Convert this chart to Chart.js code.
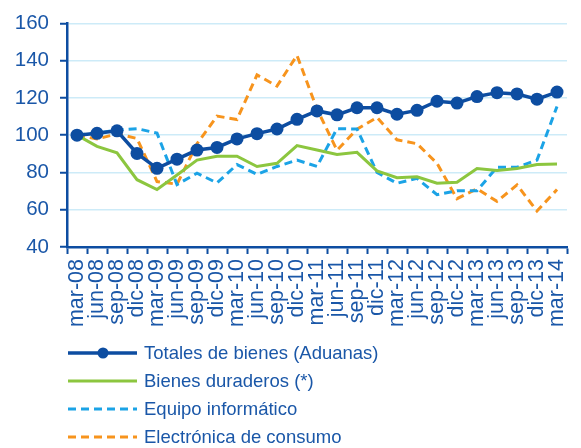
<!DOCTYPE html>
<html>
<head>
<meta charset="utf-8">
<script src="https://cdn.jsdelivr.net/npm/chart.js@4"></script>
<style>
  html, body { margin: 0; padding: 0; background: #fff; }
  canvas { display: block; }
</style>
</head>
<body>
<canvas id="chart" width="581" height="448"></canvas>
<script>
// === Data ===
const quarters = [
    "mar-08", "jun-08", "sep-08", "dic-08",
    "mar-09", "jun-09", "sep-09", "dic-09",
    "mar-10", "jun-10", "sep-10", "dic-10",
    "mar-11", "jun-11", "sep-11", "dic-11",
    "mar-12", "jun-12", "sep-12", "dic-12",
    "mar-13", "jun-13", "sep-13", "dic-13",
    "mar-14"
];
const totalesBienes = [100, 101, 102.3, 90.2, 82.2, 87.1, 92, 93.4, 98, 100.8, 103.3, 108.5, 113, 110.9, 114.7, 114.7, 111.2, 113.3, 118.2, 117.2, 120.7, 122.8, 122.1, 119.3, 123.1];
const bienesDuraderos = [100, 94, 90.5, 76.1, 70.8, 78.6, 86.6, 88.7, 88.7, 83.2, 84.9, 94.4, 92, 89.6, 90.8, 80.8, 77.2, 77.7, 74.2, 74.7, 82.1, 81, 82.1, 84.2, 84.5];
const equipoInformatico = [100, 101.1, 102.8, 103.5, 101.1, 73.5, 79.6, 74.4, 84.2, 79, 83.2, 86.6, 83.2, 103.5, 103.3, 80, 74.2, 76.8, 68.1, 70.2, 70.2, 82.8, 82.8, 86.6, 115.4];
const electronicaConsumo = [100, 97.9, 100.7, 98.2, 75.1, 73.7, 95.4, 110.2, 108.4, 132.3, 126.3, 142.8, 114, 91.9, 103.2, 109.5, 97.5, 95.4, 84.9, 65.9, 71.2, 64.5, 73.3, 59.3, 70.8];
const seriesNames = ["Totales de bienes (Aduanas)", "Bienes duraderos (*)", "Equipo informático", "Electrónica de consumo"];

// === Styles ===
const navy = "#0d4da1";
const textBlue = "#1a57a8";
const green = "#8cc63f";
const cyan = "#1ba3e6";
const orange = "#f7941d";
const gridBlue = "#cdebf8";
const fontFamily = "'Liberation Sans', Arial, sans-serif";

// legend drawn under the plot, one item per row, left aligned
const stackedLegend = {
    id: "stackedLegend",
    afterDraw(chart) {
        const ctx = chart.ctx;
        const rowsY = [353, 381, 409, 437];
        ctx.save();
        chart.data.datasets.forEach((ds, i) => {
            const y = rowsY[i];
            ctx.beginPath();
            ctx.setLineDash(ds.borderDash || []);
            ctx.strokeStyle = ds.borderColor;
            ctx.lineWidth = ds.borderWidth;
            ctx.moveTo(68, y);
            ctx.lineTo(137, y);
            ctx.stroke();
            ctx.setLineDash([]);
            if (ds.pointRadius > 0) {
                ctx.beginPath();
                ctx.fillStyle = ds.borderColor;
                ctx.arc(103, y, 5.5, 0, Math.PI * 2);
                ctx.fill();
            }
            ctx.fillStyle = textBlue;
            ctx.font = "18.5px " + fontFamily;
            ctx.textBaseline = "middle";
            ctx.textAlign = "left";
            ctx.fillText(ds.label, 144, y + 1);
        });
        ctx.restore();
    }
};

new Chart(document.getElementById("chart"), {
    type: "line",
    data: {
        labels: quarters,
        datasets: [
            {
                label: seriesNames[0],
                data: totalesBienes,
                borderColor: navy,
                backgroundColor: navy,
                borderWidth: 3.5,
                pointRadius: 6.5,
                pointBorderWidth: 0,
                pointBackgroundColor: navy
            },
            {
                label: seriesNames[1],
                data: bienesDuraderos,
                borderColor: green,
                borderWidth: 3,
                pointRadius: 0
            },
            {
                label: seriesNames[2],
                data: equipoInformatico,
                borderColor: cyan,
                borderWidth: 3,
                borderDash: [8, 5],
                pointRadius: 0
            },
            {
                label: seriesNames[3],
                data: electronicaConsumo,
                borderColor: orange,
                borderWidth: 3,
                borderDash: [8, 5],
                pointRadius: 0
            }
        ]
    },
    options: {
        responsive: false,
        animation: false,
        layout: { padding: { top: 17, right: 14, bottom: 120, left: 0 } },
        plugins: {
            legend: { display: false },
            tooltip: { enabled: false }
        },
        scales: {
            x: {
                offset: true,
                afterFit: (scale) => {
                    scale.height = 81;
                    scale.paddingLeft = 0;
                    scale.paddingRight = 0;
                },
                grid: {
                    offset: true,
                    drawOnChartArea: false,
                    drawTicks: true,
                    tickLength: 7,
                    tickColor: navy,
                    tickWidth: 2
                },
                border: { color: navy, width: 2.5 },
                ticks: {
                    color: textBlue,
                    font: { family: fontFamily, size: 21.5 },
                    minRotation: 90,
                    maxRotation: 90,
                    autoSkip: false,
                    padding: 5
                }
            },
            y: {
                min: 40,
                max: 160,
                afterFit: (scale) => { scale.width = 67; },
                grid: {
                    color: gridBlue,
                    lineWidth: 1.5,
                    tickLength: 7,
                    tickColor: navy,
                    tickWidth: 2
                },
                border: { color: navy, width: 2.5 },
                ticks: {
                    stepSize: 20,
                    color: textBlue,
                    font: { family: fontFamily, size: 20.5 },
                    padding: 11
                }
            }
        }
    },
    plugins: [stackedLegend]
});
</script>
</body>
</html>
